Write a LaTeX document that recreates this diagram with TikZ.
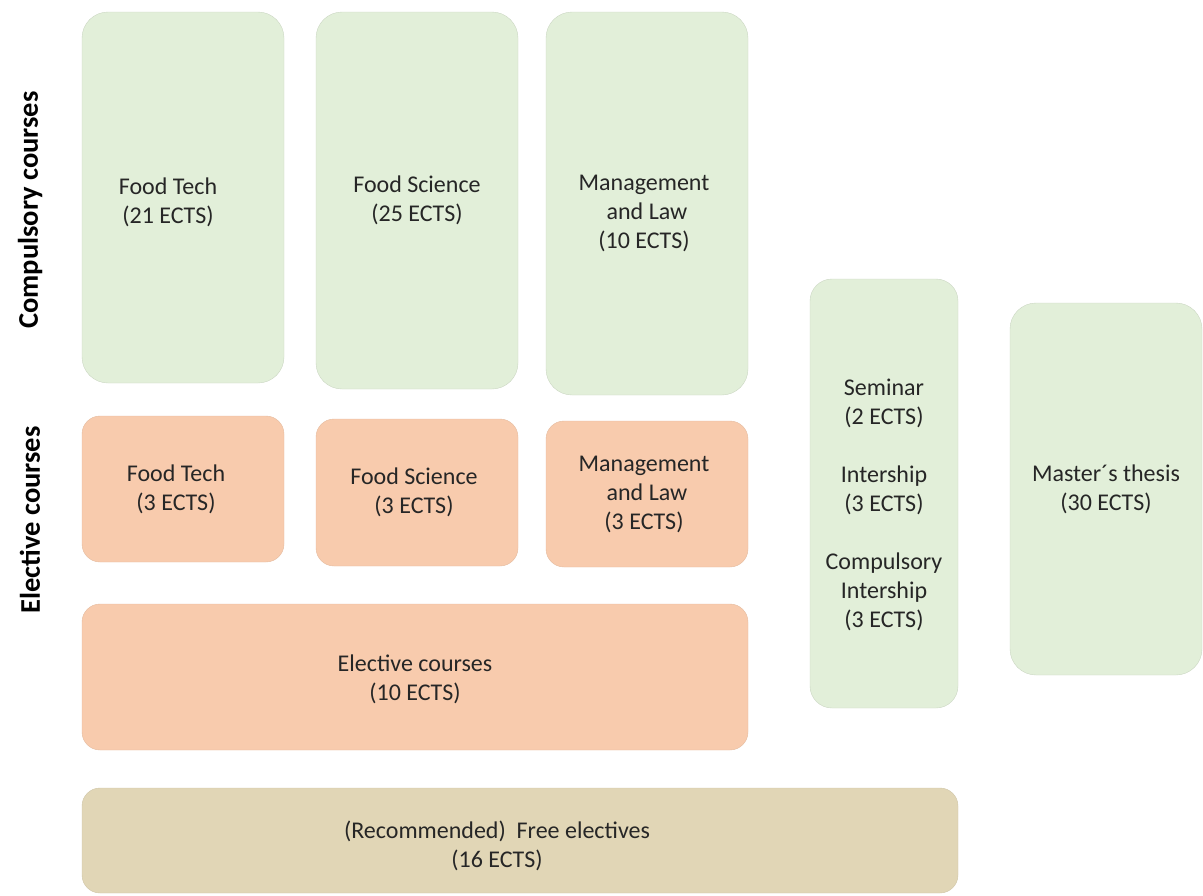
\documentclass[tikz,border=0pt]{standalone}
\usepackage{fontspec}
\setmainfont{Carlito}
\usetikzlibrary{positioning}
\definecolor{compgreen}{HTML}{E2EFD9}
\definecolor{electorange}{HTML}{F8CBAD}
\definecolor{freetan}{HTML}{E1D6B6}
\definecolor{textgray}{HTML}{262626}
\tikzset{
    compbox/.style={
    rectangle,rounded corners=26pt,draw=compgreen!90!black,fill=compgreen,text=textgray,align=center,
    font=\fontsize{24}{29}\selectfont
    },
    electbox/.style={
    rectangle,rounded corners=18pt,draw=electorange!92!black,fill=electorange,text=textgray,align=center,
    font=\fontsize{24}{29}\selectfont
    },
    freebox/.style={
    rectangle,rounded corners=18pt,draw=freetan!92!black,fill=freetan,text=textgray,align=center,
    font=\fontsize{24}{29}\selectfont
    },
    rowlabel/.style={
    rotate=90,font=\bfseries\fontsize{28.5}{32}\selectfont,text=black
    },
}

\begin{document}
\begin{tikzpicture}[x=1pt,y=-1pt]
   \useasboundingbox (0,0) rectangle (1203,895);

   %row labels
   \node[rowlabel] (lcomp) at (30,210) {Compulsory courses};
   \node[rowlabel] (lelect) at (30,520) {Elective courses};

   %compulsory courses
   \node[compbox,minimum width=202pt,minimum height=371pt] (cft) at (183,197.5)
        {\rule{0pt}{27pt}Food Tech\hspace*{30pt}\\(21 ECTS)\hspace*{30pt}};
   \node[compbox,minimum width=202pt,minimum height=377pt] (cfs) at (417,200.5) {Food Science\\(25 ECTS)};
   \node[compbox,minimum width=202pt,minimum height=383pt] (cml) at (647,203.5)
        {\rule{0pt}{36pt}Management\hspace*{6pt}\\and Law\hspace*{6pt}\\(10 ECTS)\hspace*{6pt}};

   %elective courses
   \node[electbox,minimum width=202pt,minimum height=146pt] (eft) at (183,489)
        {Food Tech\hspace*{14pt}\\(3 ECTS)\hspace*{14pt}};
   \node[electbox,minimum width=202pt,minimum height=147pt] (efs) at (417,492.5)
        {Food Science\hspace*{6pt}\\(3 ECTS)\hspace*{6pt}};
   \node[electbox,minimum width=202pt,minimum height=146pt] (eml) at (647,494)
        {Management\hspace*{6pt}\\and Law\hspace*{6pt}\\(3 ECTS)\hspace*{6pt}};
   \node[electbox,minimum width=666pt,minimum height=146pt] (ecourses) at (415,677) {\rule{0pt}{21pt}Elective courses\\(10 ECTS)};

   %seminar, intership, thesis
   \node[compbox,rounded corners=22pt,minimum width=148pt,minimum height=429pt] (sem) at (884,493.5)
        {\rule{0pt}{40pt}Seminar\\(2 ECTS)\\[29pt]Intership\\(3 ECTS)\\[29pt]Compulsory\\Intership\\(3 ECTS)};
   \node[compbox,minimum width=192pt,minimum height=372pt] (thesis) at (1106,489) {Master´s thesis\\(30 ECTS)};

   %free electives
   \node[freebox,minimum width=876pt,minimum height=105pt] (free) at (520,840.5)
        {\rule{0pt}{28pt}(Recommended)\ \ Free electives\hspace*{46pt}\\(16 ECTS)\hspace*{46pt}};
\end{tikzpicture}
\end{document}
